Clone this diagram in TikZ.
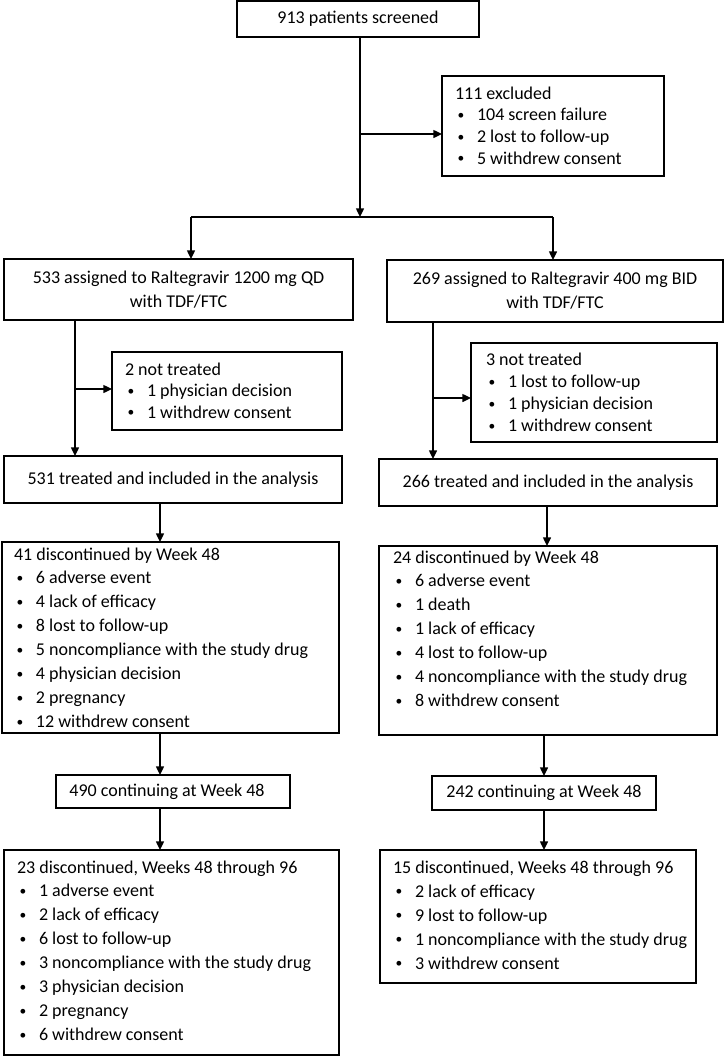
\documentclass[tikz,border=0pt]{standalone}
\usepackage{fontspec}
\usepackage{graphicx}
\setmainfont{Carlito}
\usetikzlibrary{arrows.meta}
\newdimen\pxu \pxu=0.75pt
\newcommand{\bx}[5]{\node[box, minimum width={(#4-#2)*0.75pt}, minimum height={(#5-#3)*0.75pt}] (#1) at ({(#2+#4)/2},{(#3+#5)/2}) {};}
\newcommand{\itm}[1]{\hbox{\makebox[22\pxu][l]{\hspace{2.5\pxu}\raisebox{0.9pt}{\scalebox{0.75}{•}}}#1}}
\newcommand{\blist}[3]{\vtop{\baselineskip=#1\pxu\lineskiplimit=-20pt\hbox{#2}#3}}
\tikzset{
  box/.style={draw=black, line width=1pt, inner sep=0pt, outer sep=0pt},
  txt/.style={inner sep=0pt, outer sep=0pt, font=\fontsize{13.5}{18}\selectfont},
  arr/.style={line width=1pt, -{Triangle[length=6.5pt,width=6pt]}},
  ln/.style={line width=1pt}
}
\begin{document}
\begin{tikzpicture}[x=0.75pt,y=-0.75pt]
\useasboundingbox (0,0) rectangle (726,1057);
% boxes
\bx{top}{237}{1}{479}{37}
\bx{excl}{442}{76}{664}{176}
\bx{asgL}{4}{259}{353}{320}
\bx{asgR}{387}{260}{723}{322}
\bx{ntL}{112}{352}{342}{430}
\bx{ntR}{471}{343}{717}{442}
\bx{trtL}{4}{456}{342}{503}
\bx{trtR}{379}{459}{717}{506}
\bx{dL}{2}{542}{339}{733}
\bx{dR}{379}{546}{717}{735}
\bx{cL}{56}{775}{290}{808}
\bx{cR}{432}{776}{656}{810}
\bx{fL}{4}{850}{339}{1055}
\bx{fR}{380}{850}{696}{983}
% texts
\node[txt] (ttop) at (top.center) {913 patients screened};
\node[txt, anchor=base west] (texcl) at (455,99) {\blist{21.7}{111 excluded}{\itm{104 screen failure}\itm{2 lost to follow-up}\itm{5 withdrew consent}}};
\node[txt, align=center] (tasgL) at (asgL.center) {533 assigned to Raltegravir 1200 mg QD\\with TDF/FTC};
\node[txt, align=center] (tasgR) at (asgR.center) {269 assigned to Raltegravir 400 mg BID\\with TDF/FTC};
\node[txt, anchor=base west] (tntL) at (125,375) {\blist{21.5}{2 not treated}{\itm{1 physician decision}\itm{1 withdrew consent}}};
\node[txt, anchor=base west] (tntR) at (486,365) {\blist{22.3}{3 not treated}{\itm{1 lost to follow-up}\itm{1 physician decision}\itm{1 withdrew consent}}};
\node[txt] (ttrtL) at (trtL.center) {531 treated and included in the analysis};
\node[txt] (ttrtR) at (trtR.center) {266 treated and included in the analysis};
\node[txt, anchor=base west] (tdL) at (14,560) {\blist{23.9}{41 discontinued by Week 48}{\itm{6 adverse event}\itm{4 lack of efficacy}\itm{8 lost to follow-up}\itm{5 noncompliance with the study drug}\itm{4 physician decision}\itm{2 pregnancy}\itm{12 withdrew consent}}};
\node[txt, anchor=base west] (tdR) at (393,563) {\blist{23.9}{24 discontinued by Week 48}{\itm{6 adverse event}\itm{1 death}\itm{1 lack of efficacy}\itm{4 lost to follow-up}\itm{4 noncompliance with the study drug}\itm{8 withdrew consent}}};
\node[txt] (tcL) at ([xshift=-4.5pt]cL.center) {490 continuing at Week 48};
\node[txt] (tcR) at (cR.center) {242 continuing at Week 48};
\node[txt, anchor=base west] (tfL) at (17,873) {\blist{23.9}{23 discontinued, Weeks 48 through 96}{\itm{1 adverse event}\itm{2 lack of efficacy}\itm{6 lost to follow-up}\itm{3 noncompliance with the study drug}\itm{3 physician decision}\itm{2 pregnancy}\itm{6 withdrew consent}}};
\node[txt, anchor=base west] (tfR) at (393,873) {\blist{24}{15 discontinued, Weeks 48 through 96}{\itm{2 lack of efficacy}\itm{9 lost to follow-up}\itm{1 noncompliance with the study drug}\itm{3 withdrew consent}}};
% helper coordinates
\coordinate (m) at (360,217);
\coordinate (sL) at (191,217);
\coordinate (sR) at (553,217);
\coordinate (e) at (360,134);
\coordinate (bL) at (75,389);
\coordinate (bR) at (433,398);
\coordinate (kL) at (160,0);
\coordinate (kR1) at (547,0);
\coordinate (kR) at (544,0);
% connectors
\draw[arr] (top.south -| m) -- (m);
\draw[arr] (e) -- (e -| excl.west);
\draw[ln] (sL) -- (sR);
\draw[arr] (sL) -- (sL |- asgL.north);
\draw[arr] (sR) -- (sR |- asgR.north);
\draw[arr] (asgL.south -| bL) -- (trtL.north -| bL);
\draw[arr] (bL) -- (bL -| ntL.west);
\draw[arr] (asgR.south -| bR) -- (trtR.north -| bR);
\draw[arr] (bR) -- (bR -| ntR.west);
\draw[arr] (trtL.south -| kL) -- (dL.north -| kL);
\draw[arr] (dL.south -| kL) -- (cL.north -| kL);
\draw[arr] (cL.south -| kL) -- (fL.north -| kL);
\draw[arr] (trtR.south -| kR1) -- (dR.north -| kR1);
\draw[arr] (dR.south -| kR) -- (cR.north -| kR);
\draw[arr] (cR.south -| kR) -- (fR.north -| kR);
\end{tikzpicture}
\end{document}
